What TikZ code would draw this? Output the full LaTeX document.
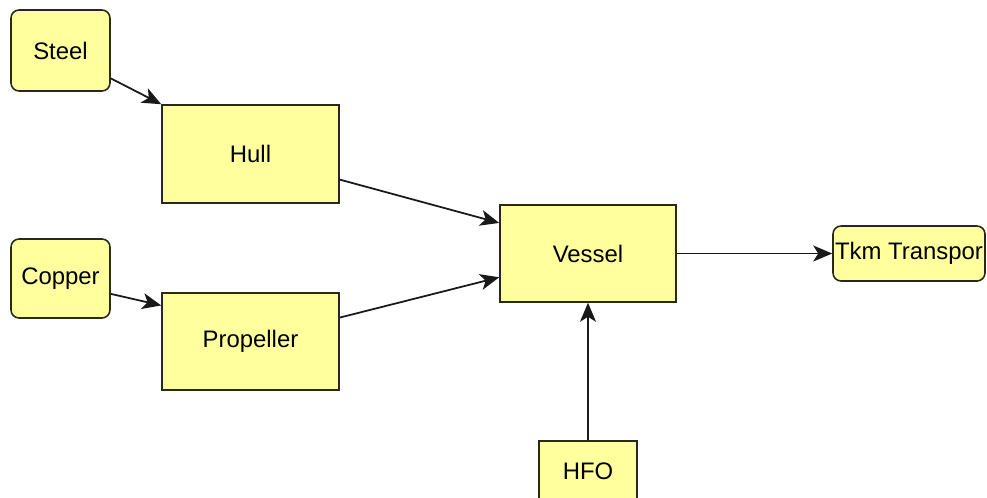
\documentclass[tikz,border=0pt]{standalone}
\usepackage{fontspec}
\setmainfont{Liberation Sans}
\usetikzlibrary{arrows.meta}

\definecolor{boxfill}{RGB}{255,255,158}
\definecolor{boxline}{RGB}{40,40,30}

\tikzset{
	procbox/.style={draw=boxline,fill=boxfill,line width=0.9pt,inner sep=1pt,
		font=\fontsize{13.6}{16}\selectfont},
	flowbox/.style={procbox,rounded corners=0.16cm},
	link/.style={draw=black!90,line width=1pt,-{Stealth[length=0.38cm,width=0.32cm,inset=0.1cm]}}
}

\begin{document}
\begin{tikzpicture}[x=0.02cm,y=-0.02cm]
		
		%Picture frame
		\useasboundingbox (0,0) rectangle (987,497);
		
		%Raw materials
		\node [flowbox,minimum width=1.98cm,minimum height=1.62cm] (steel) at (60.5,50.5) {Steel};
		\node [flowbox,minimum width=1.98cm,minimum height=1.58cm] (copper) at (60.5,278.5) {Copper};
		
		%Parts
		\node [procbox,minimum width=3.54cm,minimum height=1.96cm] (hull) at (250.5,154) {Hull};
		\node [procbox,minimum width=3.54cm,minimum height=1.94cm] (propeller) at (250.5,341.5) {Propeller};
		
		%Vessel, fuel and output
		\node [procbox,minimum width=3.52cm,minimum height=1.94cm] (vessel) at (588,253.5) {Vessel};
		\node [procbox,minimum width=1.96cm,minimum height=1.2cm] (hfo) at (588,471) {HFO};
		\node [flowbox,minimum width=3.04cm,minimum height=1.1cm] (tkm) at (909,253.5) {Tkm Transpor};
		
		%Drawing the flows
		\draw [link] (steel.-29) -- (hull.north west);
		\draw [link] (copper.-17) -- (propeller.158);
		\draw [link] (hull.-16) -- (vessel.161);
		\draw [link] (propeller.15) -- (vessel.195);
		\draw [link] (vessel.east) -- (tkm.west);
		\draw [link] (hfo.north) -- (vessel.south);
	\end{tikzpicture}
\end{document}
